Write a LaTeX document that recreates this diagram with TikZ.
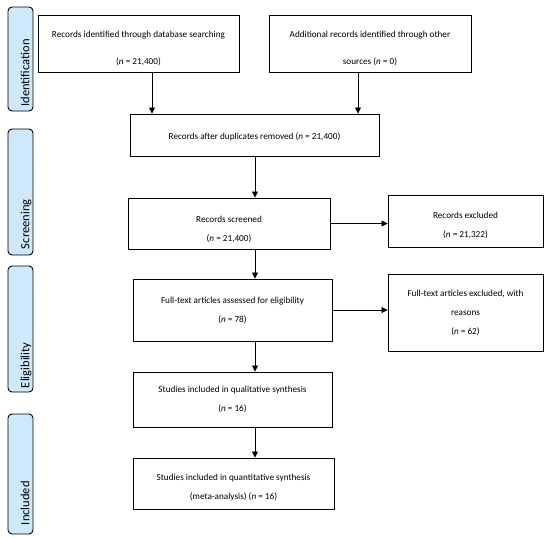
\documentclass[tikz,border=0pt]{standalone}
\usepackage{fontspec}
\setmainfont{Carlito}
\usetikzlibrary{arrows.meta}
\definecolor{stagefill}{HTML}{CDE9FB}
\newcommand{\padtop}[1]{\rule{0pt}{#1}}
% stage text: flush to the lower end of the tab, baseline to the right
\newcommand{\stagetext}[2]{\makebox[#1][l]{\raisebox{0pt}[18pt][0pt]{#2}}}
\begin{document}
\begin{tikzpicture}[
    x=1pt, y=1pt,
    box/.style = {rectangle, draw, line width=0.9pt, fill=white, inner sep=0pt, align=center, font=\fontsize{9.2}{19}\selectfont},
    stage/.style = {rectangle, draw, line width=0.9pt, fill=stagefill, rounded corners=4pt, rotate=90, minimum height=25pt, inner sep=0pt, font=\fontsize{12.5}{15}\selectfont},
    arrow/.style = {draw, line width=0.8pt, -{Triangle[length=6pt,width=6pt]}}
]
    \useasboundingbox (0,0) rectangle (550,-538);

    % stage labels on the left
    \node[stage, minimum width=104pt] (ident) at (20.5,-59) {\stagetext{95pt}{Identification}};
    \node[stage, minimum width=126pt] (screen) at (20.5,-192) {\stagetext{114pt}{Screening}};
    \node[stage, minimum width=126pt] (elig) at (20.5,-329) {\stagetext{118pt}{Eligibility}};
    \node[stage, minimum width=120pt] (incl) at (20.5,-474) {\stagetext{102pt}{Included}};

    \node[box, minimum width=201pt, minimum height=57pt, font=\fontsize{9.2}{27}\selectfont] (db) at (138.5,-43.5)
        {\padtop{17pt}Records identified through database searching\\(\emph{n} = 21,400)};
    \node[box, minimum width=202pt, minimum height=57pt, font=\fontsize{9.2}{27}\selectfont] (other) at (370,-43.5)
        {\padtop{17pt}Additional records identified through other\\sources (\emph{n} = 0)};
    \node[box, minimum width=249pt, minimum height=42pt] (dup) at (254.5,-135)
        {\padtop{11pt}Records after duplicates removed (\emph{n} = 21,400)};
    \node[box, minimum width=202pt, minimum height=51pt] (screened) at (229,-223.5)
        {\padtop{19pt}Records screened\\(\emph{n} = 21,400)};
    \node[box, minimum width=155pt, minimum height=52pt] (excl) at (465.5,-221)
        {\padtop{15pt}Records excluded\\(\emph{n} = 21,322)};
    \node[box, minimum width=199pt, minimum height=62pt] (full) at (232.5,-310)
        {Full-text articles assessed for eligibility\\(\emph{n} = 78)};
    \node[box, minimum width=155pt, minimum height=77pt] (fullexcl) at (465.5,-312.5)
        {Full-text articles excluded, with\\reasons\\(\emph{n} = 62)};
    \node[box, minimum width=199pt, minimum height=55pt] (qual) at (232.5,-399.5)
        {Studies included in qualitative synthesis\\(\emph{n} = 16)};
    \node[box, minimum width=201pt, minimum height=51pt] (quant) at (233.5,-483.5)
        {\padtop{15pt}Studies included in quantitative synthesis\\(meta-analysis) (\emph{n} = 16)};

    % vertical lines of the flow
    \coordinate (dbline) at (152,0);
    \coordinate (otherline) at (358,0);
    \coordinate (spine) at (255,0);

    \path[arrow] (db.south -| dbline) -- (dup.north -| dbline);
    \path[arrow] (other.south -| otherline) -- (dup.north -| otherline);
    \path[arrow] (dup.south -| spine) -- (screened.north -| spine);
    \path[arrow] (screened.south -| spine) -- (full.north -| spine);
    \path[arrow] (full.south -| spine) -- (qual.north -| spine);
    \path[arrow] (qual.south -| spine) -- (quant.north -| spine);

    \path[arrow] (screened.east) -- (screened.east -| excl.west);
    \path[arrow] (full.east) -- (full.east -| fullexcl.west);
\end{tikzpicture}
\end{document}
